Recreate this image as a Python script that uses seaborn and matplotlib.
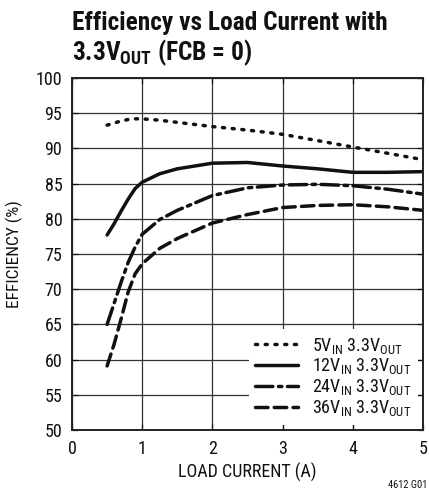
import matplotlib
matplotlib.use("Agg")
import matplotlib.pyplot as plt
import seaborn as sns
import pandas as pd

# Load current (A) sample points shared by all curves
current = [0.5, 0.6, 0.7, 0.8, 0.9, 1.0, 1.25, 1.5, 2.0, 2.5, 3.0, 3.5, 4.0, 4.5, 5.0]

# Efficiency (%) for each input voltage, 3.3V output
eff_5v = [93.3, 93.6, 93.9, 94.1, 94.2, 94.2, 94.0, 93.7, 93.1, 92.6, 92.0, 91.1, 90.2, 89.3, 88.4]
eff_12v = [77.7, 79.3, 81.1, 82.8, 84.3, 85.2, 86.4, 87.1, 87.9, 88.0, 87.5, 87.1, 86.6, 86.6, 86.7]
eff_24v = [65.0, 68.0, 71.0, 73.8, 76.0, 77.8, 79.9, 81.2, 83.3, 84.4, 84.8, 84.9, 84.7, 84.2, 83.5]
eff_36v = [59.1, 62.2, 65.8, 69.6, 72.2, 73.6, 75.8, 77.2, 79.4, 80.6, 81.6, 81.9, 82.0, 81.7, 81.2]

series_labels = [
    r"5V$_{\mathrm{IN}}$ 3.3V$_{\mathrm{OUT}}$",
    r"12V$_{\mathrm{IN}}$ 3.3V$_{\mathrm{OUT}}$",
    r"24V$_{\mathrm{IN}}$ 3.3V$_{\mathrm{OUT}}$",
    r"36V$_{\mathrm{IN}}$ 3.3V$_{\mathrm{OUT}}$",
]

x_ticks = [0, 1, 2, 3, 4, 5]
y_ticks = [50, 55, 60, 65, 70, 75, 80, 85, 90, 95, 100]

sns.set_theme(style="white")
FONT = "Roboto Condensed"
plt.rcParams["font.family"] = [FONT, "DejaVu Sans"]
plt.rcParams["mathtext.fontset"] = "custom"
plt.rcParams["mathtext.rm"] = FONT
plt.rcParams["mathtext.bf"] = FONT + ":bold"

rows = []
for lab, vals in zip(series_labels, [eff_5v, eff_12v, eff_24v, eff_36v]):
    for c, e in zip(current, vals):
        rows.append({"current": c, "eff": e, "series": lab})
df = pd.DataFrame(rows)

fig = plt.figure(figsize=(4.29, 4.96), dpi=100)
ax = fig.add_axes([72 / 429, 1 - 430 / 496, 351 / 429, 352 / 496])

dash_map = {
    series_labels[0]: (0.6, 2.2),
    series_labels[1]: "",
    series_labels[2]: (5, 1.6, 1.0, 1.6),
    series_labels[3]: (3.6, 1.8),
}

sns.lineplot(
    data=df, x="current", y="eff", style="series", dashes=dash_map,
    color="#111111", linewidth=2.5, ax=ax, sort=False,
)
for ln in ax.get_lines():
    ln.set_dash_capstyle("round")

ax.set_xlim(0, 5)
ax.set_ylim(50, 100)
ax.set_xticks(x_ticks)
ax.set_yticks(y_ticks)
ax.set_xticklabels([str(t) for t in x_ticks])
ax.set_yticklabels([str(t) for t in y_ticks])
ax.grid(True, color="#333333", linewidth=0.9)
for s in ax.spines.values():
    s.set_color("#222222")
    s.set_linewidth(1.4)
ax.tick_params(axis="both", labelsize=13, colors="#111111", direction="in",
               length=4, width=0.9, pad=7, bottom=True, left=True,
               top=True, right=True)
ax.set_xlabel("LOAD CURRENT (A)", fontsize=13, color="#111111", labelpad=4)
ax.set_ylabel("EFFICIENCY (%)", fontsize=12.5, color="#111111", labelpad=9)

leg = ax.legend(
    loc="lower right", bbox_to_anchor=(1.0, 0.0), frameon=True, framealpha=1,
    edgecolor="white", facecolor="white", fontsize=13, handlelength=2.4,
    handletextpad=0.75, labelspacing=0.05, borderpad=0.35, borderaxespad=0.3,
    title=None,
)
leg.get_frame().set_linewidth(0)
for t in leg.get_texts():
    t.set_color("#111111")

fig.text(72 / 429, 1 - 30 / 496, "Efficiency vs Load Current with",
         fontsize=18.3, fontweight="bold", color="#111111", va="baseline", ha="left")
fig.text(72 / 429, 1 - 60 / 496, r"3.3V$_{\mathbf{OUT}}$ (FCB = 0)",
         fontsize=18.3, fontweight="bold", color="#111111", va="baseline", ha="left")
fig.text(427 / 429, 1 - 488 / 496, "4612 G01", fontsize=7.5, color="#111111",
         ha="right", va="baseline")

fig.savefig("out.png", dpi=100)
